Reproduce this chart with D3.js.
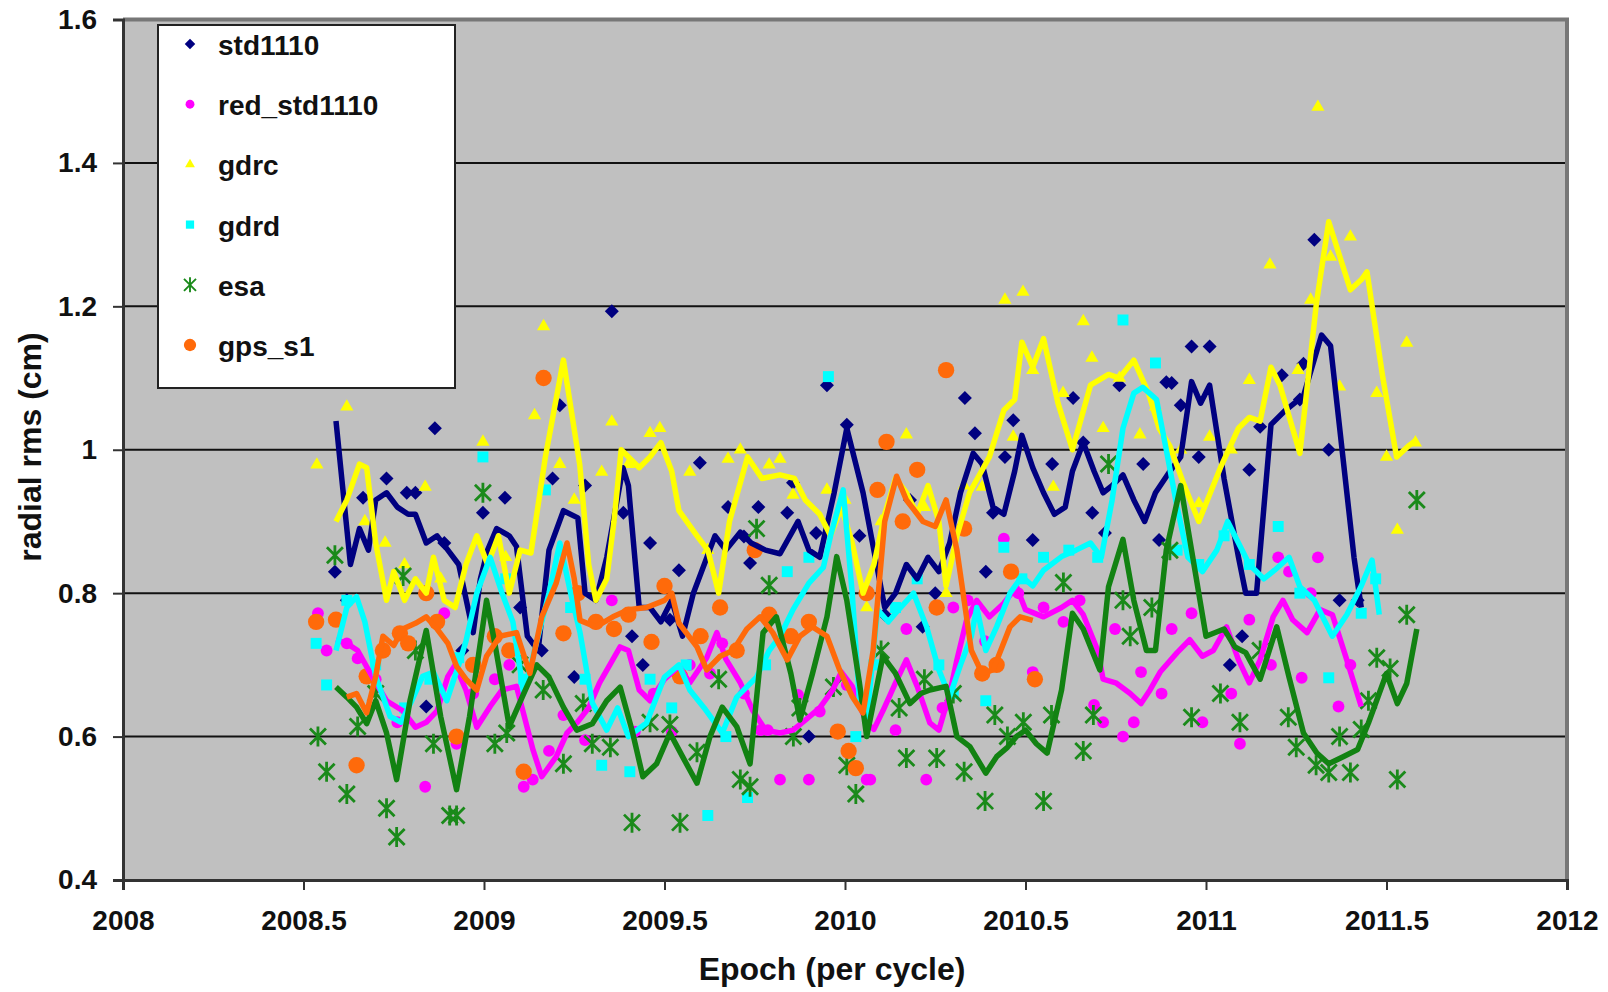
<!DOCTYPE html>
<html>
<head>
<meta charset="utf-8">
<script src="https://cdn.jsdelivr.net/npm/d3@7"></script>
<style>
  body { margin: 0; background: #fff; }
  svg text { font-family: "Liberation Sans", Arial, sans-serif; font-weight: bold; fill: #111; }
</style>
</head>
<body>
<div id="chart"></div>
<script>

// DATA //

const xTicks = [2008, 2008.5, 2009, 2009.5, 2010, 2010.5, 2011, 2011.5, 2012];
const yTicks = [0.4, 0.6, 0.8, 1, 1.2, 1.4, 1.6];
const seriesNames = ["std1110", "red_std1110", "gdrc", "gdrd", "esa", "gps_s1"];

// points [epoch, rms]
const std1110Pts = [[2008.587,0.83],[2008.62,0.79],[2008.665,0.933],[2008.73,0.96],[2008.786,0.94],[2008.81,0.94],[2008.84,0.642],[2008.864,1.03],[2008.89,0.87],[2008.94,0.72],[2008.997,0.912],[2009.058,0.933],[2009.10,0.78],[2009.16,0.72],[2009.19,0.96],[2009.21,1.062],[2009.25,0.683],[2009.28,0.95],[2009.354,1.193],[2009.386,0.912],[2009.41,0.74],[2009.44,0.70],[2009.46,0.87],[2009.515,0.763],[2009.54,0.832],[2009.598,0.982],[2009.676,0.92],[2009.72,0.879],[2009.737,0.842],[2009.76,0.92],[2009.84,0.912],[2009.856,0.954],[2009.90,0.60],[2009.92,0.884],[2009.95,1.09],[2010.005,1.035],[2010.04,0.88],[2010.11,0.77],[2010.18,0.93],[2010.215,0.753],[2010.25,0.80],[2010.332,1.072],[2010.36,1.023],[2010.39,0.83],[2010.41,0.912],[2010.443,0.99],[2010.466,1.041],[2010.52,0.874],[2010.574,0.98],[2010.632,1.072],[2010.66,1.01],[2010.685,0.912],[2010.72,0.884],[2010.76,1.09],[2010.826,0.98],[2010.87,0.874],[2010.89,1.094],[2010.905,1.093],[2010.93,1.062],[2010.96,1.144],[2010.98,0.99],[2011.01,1.144],[2011.066,0.70],[2011.10,0.74],[2011.12,0.972],[2011.15,1.032],[2011.21,1.104],[2011.26,1.07],[2011.27,1.12],[2011.30,1.293],[2011.34,1.0],[2011.37,0.79],[2011.42,0.79]];

const redPts = [[2008.54,0.772],[2008.564,0.72],[2008.62,0.73],[2008.65,0.709],[2008.70,0.68],[2008.76,0.62],[2008.837,0.53],[2008.89,0.772],[2008.924,0.59],[2008.97,0.66],[2009.03,0.68],[2009.07,0.70],[2009.11,0.53],[2009.135,0.54],[2009.18,0.58],[2009.22,0.63],[2009.28,0.595],[2009.354,0.79],[2009.418,0.607],[2009.47,0.66],[2009.52,0.607],[2009.57,0.70],[2009.626,0.688],[2009.66,0.73],[2009.72,0.66],[2009.766,0.609],[2009.786,0.609],[2009.82,0.54],[2009.87,0.658],[2009.90,0.54],[2009.93,0.635],[2010.005,0.672],[2010.06,0.54],[2010.07,0.54],[2010.14,0.609],[2010.17,0.75],[2010.225,0.54],[2010.27,0.64],[2010.30,0.78],[2010.34,0.79],[2010.388,0.733],[2010.44,0.876],[2010.48,0.80],[2010.52,0.69],[2010.55,0.78],[2010.605,0.76],[2010.65,0.79],[2010.69,0.644],[2010.715,0.62],[2010.748,0.75],[2010.77,0.60],[2010.80,0.62],[2010.82,0.69],[2010.877,0.66],[2010.905,0.75],[2010.96,0.772],[2010.99,0.62],[2011.07,0.66],[2011.094,0.59],[2011.12,0.763],[2011.18,0.70],[2011.20,0.85],[2011.23,0.83],[2011.265,0.682],[2011.29,0.80],[2011.31,0.85],[2011.367,0.642],[2011.40,0.70]];

const gdrcPts = [[2008.537,0.979],[2008.62,1.06],[2008.67,0.90],[2008.726,0.87],[2008.78,0.84],[2008.837,0.948],[2008.88,0.82],[2008.997,1.011],[2009.06,0.85],[2009.14,1.048],[2009.165,1.172],[2009.21,0.98],[2009.25,0.93],[2009.326,0.969],[2009.354,1.039],[2009.40,0.98],[2009.46,1.023],[2009.487,1.03],[2009.57,0.969],[2009.62,0.86],[2009.676,0.987],[2009.71,1.0],[2009.79,0.979],[2009.82,0.987],[2009.856,0.937],[2009.95,0.944],[2010.0,0.93],[2010.06,0.78],[2010.10,0.90],[2010.17,1.021],[2010.22,0.92],[2010.28,0.80],[2010.33,0.95],[2010.38,0.948],[2010.443,1.209],[2010.466,1.018],[2010.493,1.22],[2010.52,1.111],[2010.577,0.948],[2010.604,1.079],[2010.66,1.179],[2010.684,1.128],[2010.715,1.03],[2010.76,1.10],[2010.817,1.021],[2010.86,1.06],[2010.93,1.00],[2010.98,0.925],[2011.01,1.018],[2011.07,1.00],[2011.12,1.097],[2011.177,1.258],[2011.255,1.111],[2011.29,1.209],[2011.31,1.478],[2011.345,1.269],[2011.37,1.088],[2011.40,1.297],[2011.473,1.079],[2011.50,0.99],[2011.53,0.888],[2011.556,1.149],[2011.58,1.01]];

const gdrdPts = [[2008.535,0.73],[2008.564,0.672],[2008.62,0.79],[2008.70,0.70],[2008.78,0.64],[2008.85,0.68],[2008.93,0.71],[2008.997,0.99],[2009.06,0.82],[2009.11,0.68],[2009.17,0.944],[2009.24,0.78],[2009.28,0.68],[2009.326,0.56],[2009.404,0.551],[2009.46,0.68],[2009.52,0.64],[2009.56,0.70],[2009.62,0.49],[2009.67,0.60],[2009.73,0.515],[2009.78,0.70],[2009.84,0.83],[2009.90,0.85],[2009.954,1.102],[2010.03,0.60],[2010.08,0.70],[2010.14,0.78],[2010.20,0.82],[2010.26,0.70],[2010.30,0.66],[2010.39,0.65],[2010.44,0.864],[2010.49,0.82],[2010.55,0.85],[2010.62,0.86],[2010.70,0.85],[2010.77,1.181],[2010.86,1.121],[2010.92,0.86],[2010.98,0.84],[2011.05,0.88],[2011.12,0.84],[2011.20,0.893],[2011.26,0.80],[2011.34,0.682],[2011.43,0.772],[2011.47,0.82]];

const esaPts = [[2008.54,0.60],[2008.564,0.551],[2008.587,0.853],[2008.62,0.52],[2008.65,0.614],[2008.70,0.66],[2008.73,0.50],[2008.758,0.46],[2008.776,0.824],[2008.81,0.72],[2008.86,0.59],[2008.905,0.49],[2008.924,0.49],[2008.997,0.94],[2009.03,0.59],[2009.063,0.605],[2009.10,0.70],[2009.164,0.665],[2009.22,0.562],[2009.275,0.646],[2009.30,0.59],[2009.35,0.585],[2009.41,0.48],[2009.46,0.62],[2009.515,0.617],[2009.543,0.48],[2009.59,0.578],[2009.65,0.68],[2009.71,0.54],[2009.737,0.53],[2009.755,0.89],[2009.79,0.811],[2009.857,0.60],[2009.875,0.64],[2009.968,0.669],[2010.005,0.56],[2010.03,0.52],[2010.10,0.72],[2010.15,0.64],[2010.17,0.57],[2010.22,0.68],[2010.254,0.57],[2010.30,0.66],[2010.33,0.551],[2010.388,0.51],[2010.415,0.63],[2010.45,0.60],[2010.494,0.62],[2010.55,0.51],[2010.572,0.63],[2010.605,0.815],[2010.66,0.58],[2010.688,0.63],[2010.73,0.98],[2010.77,0.79],[2010.79,0.74],[2010.85,0.78],[2010.90,0.86],[2010.96,0.627],[2011.04,0.66],[2011.094,0.62],[2011.15,0.72],[2011.228,0.627],[2011.25,0.585],[2011.305,0.56],[2011.34,0.55],[2011.37,0.60],[2011.40,0.55],[2011.43,0.61],[2011.45,0.65],[2011.473,0.71],[2011.51,0.695],[2011.53,0.54],[2011.556,0.77],[2011.584,0.93]];

const gpsPts = [[2008.535,0.76],[2008.59,0.763],[2008.647,0.56],[2008.675,0.684],[2008.72,0.72],[2008.767,0.744],[2008.79,0.73],[2008.84,0.80],[2008.87,0.76],[2008.924,0.60],[2008.97,0.70],[2009.03,0.74],[2009.07,0.72],[2009.11,0.551],[2009.165,1.10],[2009.22,0.744],[2009.26,0.80],[2009.31,0.76],[2009.36,0.75],[2009.40,0.77],[2009.464,0.732],[2009.50,0.81],[2009.543,0.684],[2009.60,0.74],[2009.654,0.78],[2009.70,0.72],[2009.75,0.86],[2009.79,0.77],[2009.85,0.74],[2009.90,0.76],[2009.98,0.607],[2010.01,0.58],[2010.03,0.556],[2010.06,0.80],[2010.09,0.944],[2010.115,1.011],[2010.16,0.90],[2010.20,0.972],[2010.254,0.78],[2010.28,1.111],[2010.33,0.89],[2010.38,0.688],[2010.42,0.70],[2010.46,0.83],[2010.526,0.68]];

// moving-average lines
const std1110Line = [[2008.59,1.04],[2008.63,0.84],[2008.655,0.89],[2008.68,0.86],[2008.70,0.93],[2008.73,0.94],[2008.76,0.92],[2008.79,0.91],[2008.81,0.91],[2008.84,0.87],[2008.87,0.88],[2008.90,0.86],[2008.93,0.84],[2008.97,0.745],[2008.99,0.82],[2009.01,0.86],[2009.035,0.89],[2009.07,0.88],[2009.09,0.865],[2009.12,0.74],[2009.15,0.72],[2009.18,0.86],[2009.22,0.915],[2009.26,0.905],[2009.28,0.80],[2009.31,0.79],[2009.34,0.85],[2009.385,0.975],[2009.40,0.95],[2009.43,0.78],[2009.46,0.78],[2009.49,0.76],[2009.52,0.79],[2009.55,0.74],[2009.58,0.80],[2009.61,0.84],[2009.64,0.88],[2009.67,0.86],[2009.71,0.885],[2009.74,0.87],[2009.78,0.86],[2009.82,0.855],[2009.87,0.90],[2009.90,0.86],[2009.93,0.85],[2009.97,0.94],[2010.005,1.03],[2010.05,0.94],[2010.08,0.86],[2010.11,0.78],[2010.14,0.80],[2010.17,0.84],[2010.20,0.82],[2010.23,0.85],[2010.26,0.83],[2010.29,0.87],[2010.32,0.94],[2010.355,0.995],[2010.38,0.98],[2010.41,0.92],[2010.44,0.91],[2010.47,0.97],[2010.49,1.02],[2010.52,0.975],[2010.55,0.94],[2010.58,0.91],[2010.61,0.92],[2010.63,0.97],[2010.66,1.01],[2010.69,0.97],[2010.715,0.94],[2010.74,0.95],[2010.77,0.965],[2010.80,0.93],[2010.83,0.90],[2010.86,0.94],[2010.90,0.97],[2010.93,0.99],[2010.96,1.095],[2010.985,1.065],[2011.01,1.09],[2011.05,0.96],[2011.09,0.85],[2011.11,0.80],[2011.14,0.80],[2011.18,1.035],[2011.22,1.055],[2011.27,1.075],[2011.32,1.16],[2011.345,1.145],[2011.41,0.85],[2011.43,0.78]];

const redLine = [[2008.59,0.735],[2008.62,0.73],[2008.65,0.72],[2008.69,0.684],[2008.73,0.65],[2008.775,0.636],[2008.81,0.613],[2008.84,0.62],[2008.87,0.636],[2008.90,0.684],[2008.92,0.70],[2008.95,0.665],[2008.98,0.613],[2009.017,0.642],[2009.05,0.665],[2009.09,0.67],[2009.136,0.581],[2009.16,0.544],[2009.20,0.572],[2009.23,0.605],[2009.257,0.619],[2009.29,0.64],[2009.32,0.675],[2009.377,0.725],[2009.40,0.72],[2009.43,0.665],[2009.46,0.65],[2009.50,0.68],[2009.54,0.698],[2009.57,0.675],[2009.617,0.71],[2009.645,0.745],[2009.67,0.708],[2009.71,0.675],[2009.745,0.636],[2009.78,0.609],[2009.82,0.605],[2009.856,0.609],[2009.89,0.623],[2009.93,0.64],[2009.966,0.665],[2009.99,0.69],[2010.02,0.67],[2010.06,0.619],[2010.08,0.61],[2010.105,0.636],[2010.14,0.675],[2010.17,0.707],[2010.20,0.67],[2010.235,0.619],[2010.26,0.609],[2010.29,0.66],[2010.31,0.707],[2010.337,0.763],[2010.365,0.79],[2010.40,0.767],[2010.44,0.786],[2010.475,0.809],[2010.50,0.777],[2010.55,0.767],[2010.60,0.78],[2010.63,0.79],[2010.66,0.77],[2010.70,0.72],[2010.715,0.68],[2010.75,0.675],[2010.79,0.66],[2010.82,0.646],[2010.845,0.665],[2010.873,0.69],[2010.92,0.717],[2010.955,0.735],[2010.99,0.712],[2011.02,0.72],[2011.057,0.753],[2011.09,0.707],[2011.12,0.675],[2011.15,0.707],[2011.186,0.767],[2011.213,0.79],[2011.24,0.763],[2011.28,0.745],[2011.316,0.777],[2011.35,0.77],[2011.39,0.707],[2011.43,0.642]];

const gdrcLine = [[2008.59,0.90],[2008.62,0.93],[2008.655,0.98],[2008.675,0.975],[2008.70,0.87],[2008.73,0.79],[2008.75,0.83],[2008.78,0.79],[2008.81,0.82],[2008.84,0.80],[2008.86,0.85],[2008.89,0.79],[2008.92,0.78],[2008.95,0.84],[2008.98,0.88],[2009.01,0.84],[2009.04,0.88],[2009.07,0.80],[2009.10,0.86],[2009.13,0.856],[2009.17,0.99],[2009.22,1.125],[2009.265,0.98],[2009.29,0.84],[2009.31,0.79],[2009.34,0.82],[2009.36,0.90],[2009.38,1.0],[2009.43,0.975],[2009.46,0.99],[2009.49,1.01],[2009.52,0.97],[2009.54,0.915],[2009.59,0.88],[2009.62,0.86],[2009.65,0.80],[2009.68,0.90],[2009.73,0.99],[2009.77,0.96],[2009.82,0.965],[2009.86,0.96],[2009.89,0.93],[2009.93,0.91],[2009.96,0.88],[2009.99,0.92],[2010.02,0.87],[2010.05,0.80],[2010.08,0.84],[2010.11,0.91],[2010.14,0.96],[2010.17,0.94],[2010.20,0.91],[2010.23,0.95],[2010.26,0.90],[2010.28,0.81],[2010.31,0.88],[2010.345,0.94],[2010.40,0.99],[2010.44,1.055],[2010.47,1.07],[2010.49,1.15],[2010.52,1.115],[2010.55,1.155],[2010.59,1.065],[2010.63,1.0],[2010.68,1.09],[2010.73,1.105],[2010.76,1.10],[2010.80,1.125],[2010.84,1.08],[2010.87,1.03],[2010.90,1.005],[2010.94,0.95],[2010.98,0.90],[2011.04,0.975],[2011.09,1.03],[2011.12,1.045],[2011.15,1.04],[2011.18,1.115],[2011.205,1.09],[2011.26,0.995],[2011.306,1.205],[2011.34,1.318],[2011.40,1.223],[2011.43,1.237],[2011.446,1.248],[2011.49,1.10],[2011.528,0.99],[2011.56,1.005],[2011.584,1.014]];

const gdrdLine = [[2008.59,0.72],[2008.62,0.78],[2008.647,0.795],[2008.67,0.76],[2008.70,0.684],[2008.74,0.628],[2008.77,0.62],[2008.80,0.65],[2008.83,0.684],[2008.86,0.69],[2008.897,0.65],[2008.93,0.70],[2008.95,0.733],[2008.98,0.80],[2009.017,0.85],[2009.05,0.80],[2009.08,0.76],[2009.11,0.66],[2009.14,0.72],[2009.18,0.80],[2009.21,0.87],[2009.24,0.80],[2009.266,0.745],[2009.30,0.647],[2009.34,0.609],[2009.37,0.64],[2009.40,0.60],[2009.45,0.619],[2009.50,0.683],[2009.54,0.70],[2009.57,0.665],[2009.61,0.64],[2009.66,0.605],[2009.70,0.655],[2009.755,0.683],[2009.79,0.72],[2009.82,0.74],[2009.856,0.777],[2009.90,0.814],[2009.94,0.836],[2009.96,0.88],[2009.995,0.944],[2010.02,0.80],[2010.04,0.65],[2010.06,0.62],[2010.09,0.777],[2010.12,0.76],[2010.14,0.772],[2010.19,0.80],[2010.226,0.753],[2010.26,0.693],[2010.29,0.656],[2010.32,0.70],[2010.35,0.74],[2010.365,0.78],[2010.39,0.72],[2010.42,0.753],[2010.457,0.80],[2010.49,0.823],[2010.52,0.81],[2010.55,0.832],[2010.60,0.851],[2010.64,0.86],[2010.68,0.87],[2010.71,0.85],[2010.74,0.93],[2010.77,1.03],[2010.80,1.079],[2010.825,1.087],[2010.863,1.07],[2010.89,1.0],[2010.92,0.92],[2010.95,0.85],[2010.99,0.83],[2011.03,0.86],[2011.06,0.90],[2011.09,0.87],[2011.12,0.84],[2011.16,0.82],[2011.19,0.832],[2011.23,0.85],[2011.26,0.809],[2011.30,0.79],[2011.35,0.74],[2011.39,0.77],[2011.43,0.81],[2011.46,0.846],[2011.48,0.77]];

const esaLine = [[2008.59,0.669],[2008.62,0.655],[2008.647,0.641],[2008.675,0.618],[2008.70,0.65],[2008.73,0.605],[2008.758,0.54],[2008.795,0.65],[2008.84,0.748],[2008.88,0.628],[2008.924,0.526],[2008.96,0.628],[2009.007,0.79],[2009.03,0.73],[2009.07,0.614],[2009.11,0.66],[2009.146,0.70],[2009.18,0.683],[2009.22,0.641],[2009.257,0.609],[2009.30,0.618],[2009.34,0.65],[2009.377,0.669],[2009.41,0.609],[2009.44,0.544],[2009.478,0.562],[2009.515,0.605],[2009.55,0.572],[2009.59,0.535],[2009.626,0.60],[2009.66,0.641],[2009.70,0.614],[2009.737,0.562],[2009.773,0.745],[2009.81,0.767],[2009.85,0.688],[2009.875,0.623],[2009.91,0.688],[2009.95,0.767],[2009.977,0.851],[2010.005,0.79],[2010.04,0.675],[2010.06,0.60],[2010.105,0.712],[2010.14,0.688],[2010.18,0.646],[2010.21,0.66],[2010.235,0.665],[2010.28,0.67],[2010.31,0.60],[2010.346,0.586],[2010.39,0.549],[2010.42,0.572],[2010.45,0.585],[2010.475,0.60],[2010.50,0.609],[2010.53,0.59],[2010.56,0.577],[2010.60,0.665],[2010.63,0.772],[2010.66,0.75],[2010.706,0.693],[2010.73,0.809],[2010.77,0.875],[2010.80,0.79],[2010.835,0.72],[2010.86,0.72],[2010.89,0.86],[2010.93,0.95],[2010.96,0.86],[2011.0,0.74],[2011.05,0.75],[2011.08,0.725],[2011.11,0.717],[2011.15,0.68],[2011.196,0.753],[2011.23,0.683],[2011.27,0.605],[2011.307,0.577],[2011.34,0.562],[2011.38,0.572],[2011.42,0.582],[2011.45,0.619],[2011.50,0.688],[2011.53,0.646],[2011.556,0.674],[2011.584,0.75]];

const gpsLine = [[2008.62,0.655],[2008.647,0.66],[2008.675,0.633],[2008.70,0.684],[2008.72,0.74],[2008.75,0.727],[2008.775,0.75],[2008.81,0.758],[2008.84,0.767],[2008.87,0.75],[2008.90,0.73],[2008.924,0.698],[2008.95,0.68],[2008.98,0.665],[2009.007,0.712],[2009.044,0.74],[2009.09,0.745],[2009.127,0.688],[2009.16,0.767],[2009.20,0.814],[2009.23,0.87],[2009.25,0.82],[2009.266,0.762],[2009.31,0.753],[2009.357,0.767],[2009.40,0.777],[2009.45,0.78],[2009.50,0.79],[2009.52,0.80],[2009.54,0.758],[2009.59,0.725],[2009.617,0.693],[2009.654,0.712],[2009.69,0.72],[2009.728,0.75],[2009.765,0.767],[2009.80,0.745],[2009.84,0.707],[2009.875,0.74],[2009.91,0.753],[2009.95,0.74],[2009.985,0.693],[2010.02,0.656],[2010.05,0.633],[2010.078,0.72],[2010.11,0.90],[2010.143,0.963],[2010.17,0.93],[2010.216,0.90],[2010.25,0.893],[2010.28,0.93],[2010.31,0.86],[2010.35,0.72],[2010.38,0.688],[2010.41,0.693],[2010.457,0.753],[2010.485,0.767],[2010.52,0.762]];

// SETUP //

const W = 1608, H = 992;
const plot = { left: 123, right: 1567, top: 19.5, bottom: 880 };

const x = d3.scaleLinear().domain([2008, 2012]).range([plot.left, plot.right]);
const y = d3.scaleLinear().domain([0.4, 1.6]).range([plot.bottom, plot.top]);

const svg = d3.select("#chart").append("svg")
  .attr("width", W)
  .attr("height", H);

// plot background
svg.append("rect")
  .attr("x", plot.left).attr("y", plot.top)
  .attr("width", plot.right - plot.left)
  .attr("height", plot.bottom - plot.top)
  .attr("fill", "#c0c0c0");

// gridlines
svg.selectAll(".grid")
  .data(yTicks.slice(1, -1))
  .join("line")
  .attr("x1", plot.left).attr("x2", plot.right)
  .attr("y1", d => y(d)).attr("y2", d => y(d))
  .attr("stroke", "#111").attr("stroke-width", 2);

// top + right border
svg.append("path")
  .attr("d", `M${plot.left},${plot.top}H${plot.right}V${plot.bottom}`)
  .attr("fill", "none").attr("stroke", "#777").attr("stroke-width", 4);

// x axis
svg.append("g")
  .attr("transform", `translate(0,${plot.bottom})`)
  .call(d3.axisBottom(x).tickValues(xTicks).tickFormat(d => d).tickSize(10).tickPadding(20))
  .call(g => g.select(".domain").attr("stroke", "#333").attr("stroke-width", 3))
  .call(g => g.selectAll(".tick line").attr("stroke", "#333").attr("stroke-width", 2))
  .call(g => g.selectAll(".tick text").style("font-size", "28px").attr("fill", "#111"));

// y axis
svg.append("g")
  .attr("transform", `translate(${plot.left},0)`)
  .call(d3.axisLeft(y).tickValues(yTicks).tickFormat(d => d).tickSize(10).tickPadding(16))
  .call(g => g.select(".domain").attr("stroke", "#333").attr("stroke-width", 3))
  .call(g => g.selectAll(".tick line").attr("stroke", "#333").attr("stroke-width", 2))
  .call(g => g.selectAll(".tick text").style("font-size", "28px").attr("fill", "#111"));

// MARKERS //

const sym = {
  diamond: "M0,-7L7,0L0,7L-7,0Z",
  circle: d3.symbol().type(d3.symbolCircle).size(110)(),
  triangle: d3.symbol().type(d3.symbolTriangle).size(75)(),
  square: d3.symbol().type(d3.symbolSquare).size(120)(),
  big: d3.symbol().type(d3.symbolCircle).size(210)(),
  star: "M-8,-8L8,8M-8,8L8,-8M0,-10L0,10"
};

function drawPoints(data, path, color, isStroke) {
  svg.append("g").selectAll("path")
    .data(data)
    .join("path")
    .attr("transform", d => `translate(${x(d[0])},${y(d[1])})`)
    .attr("d", path)
    .attr("fill", isStroke ? "none" : color)
    .attr("stroke", isStroke ? color : "none")
    .attr("stroke-width", isStroke ? 2.8 : 0);
}

drawPoints(std1110Pts, sym.diamond, "#000080");
drawPoints(redPts, sym.circle, "#ff00ff");
drawPoints(gdrcPts, sym.triangle, "#ffff00");
drawPoints(gdrdPts, sym.square, "#00ffff");
drawPoints(esaPts, sym.star, "#1a8a1a", true);
drawPoints(gpsPts, sym.big, "#ff6a0a");

// LINES //

const line = d3.line()
  .x(d => x(d[0]))
  .y(d => y(d[1]));

const lines = [
  [std1110Line, "#000080"],
  [redLine, "#ff00ff"],
  [gdrcLine, "#ffff00"],
  [gdrdLine, "#00ffff"],
  [esaLine, "#128212"],
  [gpsLine, "#ff6a0a"]
];

lines.forEach(l => {
  svg.append("path")
    .datum(l[0])
    .attr("fill", "none")
    .attr("stroke", l[1])
    .attr("stroke-width", 5.5)
    .attr("stroke-linejoin", "round")
    .attr("d", line);
});

// LEGEND //

svg.append("rect")
  .attr("x", 158).attr("y", 25)
  .attr("width", 297).attr("height", 363)
  .attr("fill", "#fff")
  .attr("stroke", "#222").attr("stroke-width", 2);

const legendMarks = [
  [sym.diamond, "#000080", false],
  [sym.circle, "#ff00ff", false],
  [sym.triangle, "#ffff00", false],
  [sym.square, "#00ffff", false],
  [sym.star, "#1a8a1a", true],
  [sym.big, "#ff6a0a", false]
];

const leg = svg.append("g").selectAll("g")
  .data(seriesNames)
  .join("g")
  .attr("transform", (d, i) => `translate(0,${44 + i * 60.2})`);

leg.append("path")
  .attr("transform", "translate(190,0) scale(0.75)")
  .attr("d", (d, i) => legendMarks[i][0])
  .attr("fill", (d, i) => legendMarks[i][2] ? "none" : legendMarks[i][1])
  .attr("stroke", (d, i) => legendMarks[i][2] ? legendMarks[i][1] : "none")
  .attr("stroke-width", 2.5);

leg.append("text")
  .attr("x", 218)
  .attr("y", 11)
  .style("font-size", "28px")
  .text(d => d);

// AXIS TITLES //

svg.append("text")
  .attr("x", 832)
  .attr("y", 980)
  .attr("text-anchor", "middle")
  .style("font-size", "32px")
  .text("Epoch (per cycle)");

svg.append("text")
  .attr("transform", "translate(41,447) rotate(-90)")
  .attr("text-anchor", "middle")
  .style("font-size", "32px")
  .text("radial rms (cm)");

</script>
</body>
</html>
